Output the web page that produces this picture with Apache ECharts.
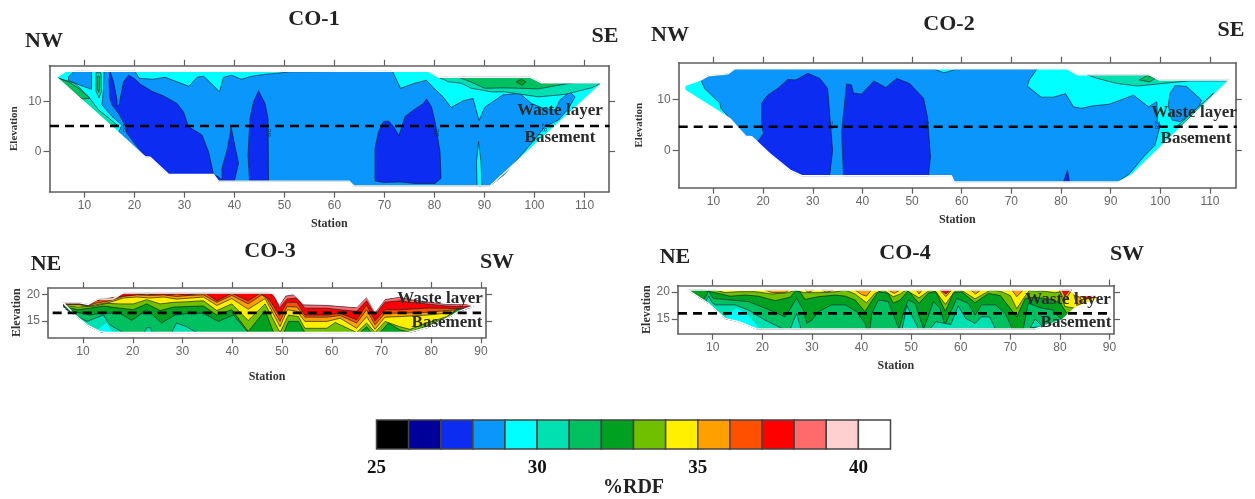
<!DOCTYPE html>
<html><head><meta charset="utf-8">
<style>html,body{margin:0;padding:0;background:#fff}#c{width:1255px;height:499px}</style>
<script src="https://cdn.jsdelivr.net/npm/echarts@6/dist/echarts.min.js"></script>
</head><body><div id="c"></div>
<script>
// ---------- colour scale ----------
const rdfLevels = [25,26,27,28,29,30,31,32,33,34,35,36,37,38,39,40];
const rdfColors = ['#000000','#00009a','#0c2cf2','#0a96fa','#00ffff','#00e0b0','#00c060','#00a020','#70c000','#fff000','#ffa000','#ff5000','#ff0000','#ff6a6a','#ffd0d0','#ffffff'];
const rdfTicks = [25,30,35,40];
const stationTicksLong = [10,20,30,40,50,60,70,80,90,100,110];
const stationTicksShort = [10,20,30,40,50,60,70,80,90];
const elevationTicksLong = [0,10];
const elevationTicksShort = [15,20];

// ---------- CO-1 contour outlines [station, elevation] ----------
const co1Envelope = [[4.4,14.8],[6.2,16],[78.8,16],[80.8,14.8],[99.2,14.8],[101.4,13.7],[113.6,13.7],[91.1,-6.8],[63.9,-6.8],[62.9,-5.85],[36.8,-5.85],[35.8,-4.5],[26.8,-4.5],[23.1,-1.1],[22.1,-1],[15.1,5.3]];
const co1Main28 = [[13.9,16],[20.1,16],[20.9,14.6],[23.7,14.4],[26.1,14.8],[28.5,13.9],[30.9,13],[32.5,14.8],[33.8,15],[35,13.9],[37,11.9],[37.8,14.8],[39.4,15.2],[41.4,14.4],[43.4,15],[46.2,15.4],[48.6,15.6],[51,15.9],[71.6,16],[73.2,12.6],[76,13.6],[78.4,14.2],[79.6,12.9],[81.7,10.9],[83.3,8.8],[85.7,10.1],[87.7,10.6],[88.9,6.2],[90.1,8.9],[93.7,11.3],[97,11.6],[99.4,9.6],[101.8,8.6],[104.1,8.3],[105.1,10.3],[107.1,11.9],[108.1,10.9],[106.8,8.6],[104.8,6.3],[102.1,5],[99.4,1.7],[94,-4.5],[91.1,-6.8],[63.9,-6.8],[62.9,-5.85],[36.8,-5.85],[35.8,-4.5],[26.8,-4.5],[23.1,-1.1],[22.1,-1],[16.8,3.8],[17.5,5.3],[15.5,7],[13.5,9.3],[13.8,12.6]];
const co1Patch28 = [[6.8,14.9],[8,16],[11.4,16],[11.4,12.4],[9.2,13.2],[6.8,14.2]];
const co1EdgeTeal = [[4.5,14.7],[8.1,13.6],[9.8,11.9],[11.1,10.6],[12.8,8.3],[14.5,7],[16.5,5.3],[15.1,5.3]];
const co1EdgeGreen = [[4.5,14.7],[6.8,13.9],[8.8,12.6],[11.1,10.6],[9.5,10.5],[7.8,11.9]];
const co1StripTeal = [[12.3,15.7],[13.3,15.7],[13.4,12],[12.9,10.7],[12.3,12]];
const co1StripGreen = [[12.6,15],[13,15],[13,12.5],[12.8,11.8],[12.6,12.5]];
const co1Dark27A = [[15.1,16],[15.8,13.9],[16.5,10.3],[16.5,9.1],[16.9,9.3],[17.8,13.9],[18.8,15.2],[19.9,14.6],[21.2,13.4],[23.5,12],[25.8,11.1],[28.5,9.6],[29.8,7.9],[30.8,5],[33.5,3.3],[34.8,0],[35.8,-4.5],[26.8,-4.5],[23.1,-1.1],[22.1,-1],[18.5,3.6],[18.1,5.3],[16.8,7.6],[15.5,9.3],[15.1,10.6],[14.9,13.9]];
const co1Dark27B = [[35.8,-4.5],[36.8,-5],[37.5,-5.7],[36.8,-5.7]];
const co1Dark27C = [[39.3,5],[40.1,1],[40.8,-2.3],[40,-5.7],[37.5,-5.7],[37.5,-3.3],[38.5,0.3],[39.1,3.3]];
const co1Dark27D = [[44.8,12.1],[46.1,9.6],[46.7,6.6],[46.8,-5.7],[43,-5.7],[42.7,-0.7],[43.1,6.6],[43.8,9.9]];
const co1Dark27E = [[68.1,-5.8],[68.1,0.7],[68.8,4],[69.8,6],[70.8,6.1],[71.8,5],[72.9,3.2],[74.1,7],[75.8,8.3],[77.8,9.6],[78.4,10.5],[79.4,8.9],[80.1,6],[81.1,0],[81.3,-5.3],[80.1,-6.3],[76.1,-6.3],[73.1,-6],[69.8,-6.1]];
const co1SpikeCyan = [[88.8,2],[89.3,-2],[89.5,-6.8],[88.5,-6.8],[88.4,-2]];
const co1TopTeal = [[80.8,14.8],[99.2,14.8],[101.4,13.7],[113.6,13.7],[111.4,12.7],[106.1,11.4],[100.8,10.9],[98.1,11.3],[94.1,11.9],[91.4,11.9],[87.4,12.6],[85.4,13.6],[82.8,13.9]];
const co1TopGreen = [[84.8,14.8],[99.2,14.8],[101.4,13.7],[108,13.7],[105.8,13.4],[100.8,12.5],[97.5,12.6],[93.5,12.7],[90.1,12.6],[87.4,13.8]];
const co1TopDark = [[96.3,13.9],[97.4,14.4],[98.3,13.9],[97.5,13.2]];
const co1LabelPoints = [[18.2,4.7],[46.8,3.8],[80.4,3.8],[102,4.8]];
const co1Dash = [[3.1,5.1],[115,5.1]];

// ---------- CO-2 contour outlines ----------
const co2Envelope = [[4.2,12.8],[7.5,13.9],[8.9,14.7],[12.9,15.1],[14.3,16.1],[81.3,16.1],[83.3,14.9],[97.8,14.9],[99.8,13.9],[113.9,13.9],[94.2,-4.9],[91.5,-6.25],[58.5,-6.25],[57.9,-5],[27.8,-5],[25.4,-3.9],[21.3,-0.6],[17.7,2.7],[16.5,2.8],[13.3,6.3],[4.2,11.9]];
const co2Main28 = [[7.5,13.9],[8.9,14.7],[12.9,15.1],[14.3,16.1],[54.3,16.1],[56.4,15.3],[59.2,16.1],[75.2,16.1],[73.6,13.9],[73.2,12.7],[76,10.5],[78.5,10.5],[80.9,11.2],[82.5,8.6],[84.1,8.3],[86.5,8.8],[89.7,9.1],[94.6,10.9],[97.6,8.6],[99.3,9.6],[99.4,5.65],[100,5],[98.9,1],[96.6,-1.3],[93.9,-4.5],[91.5,-6.25],[58.5,-6.25],[57.9,-5],[27.8,-5],[25.4,-3.9],[21.3,-0.6],[17.7,2.7],[16.5,2.8],[13.3,6.3],[11.5,8.3],[11.3,9.3],[8.2,12.2]];
const co2Blob28 = [[101.6,9],[102,11.3],[103,12.8],[105.3,12.6],[108.3,9.9],[107.7,8.6],[104,5.65],[102.3,6]];
const co2Dark27A = [[19.7,9.3],[20.9,10.9],[22.9,12.2],[25,14],[26.6,13.9],[29,15.2],[31.4,14.2],[33,12.2],[33.6,4.7],[34,0],[33.4,-5],[27.8,-5],[25.4,-3.9],[21.3,-0.6],[18.9,1.7],[20.1,3.4],[19.7,4.7]];
const co2Dark27B = [[36.8,13.1],[37.8,12.9],[38.2,11.3],[39.8,11.1],[42.3,13.7],[44.7,12.4],[46.9,14.2],[49.5,13.2],[52.3,10.3],[53.1,6.6],[53.7,-1.3],[53.3,-5],[36.2,-5],[35.8,3.4]];
const co2Dark27C = [[80.5,-6.2],[81.3,-3.9],[81.7,-6.2]];
const co2TopTeal = [[85.3,14.9],[97.8,14.9],[99.8,13.9],[113.9,13.9],[113,13.7],[105.8,13.7],[99.4,13.1],[95.4,12.7],[91.3,13.2],[87.3,14.2]];
const co2TopGreen = [[95.8,13.9],[97.4,14.8],[99,14.2],[97.8,13.5]];
const co2EdgeTeal = [[103.3,4.7],[104.3,5],[109.3,9.6],[110.7,11.3]];
const co2LabelPoints = [[33.5,5],[52.9,5],[99.4,5]];
const co2Dash = [[3,4.66],[115.4,4.66]];

// ---------- CO-3 contour curves ----------
const co3TopEdge = [[6,18.4],[9.3,18.4],[11,18.1],[13,19.1],[16,19.1],[18,20.25],[46.7,20.25],[48.3,20.2],[49.5,18.2],[50.6,19.9],[52.3,20.2],[54.3,18.3],[59,18.2],[61.7,18],[65,17.7],[67,19.7],[68.7,16.8],[70.7,19.3],[73.7,19.7],[75.7,19.3],[83.1,18.3],[87.1,18.3],[88.5,17.8]];
const co3LowEdge = [[6,17.4],[8.3,16.2],[10.7,14.3],[13.3,13],[14.7,12.8],[75.4,12.8],[79,13.7],[83.8,15.8],[85.5,16.8],[88.5,17.8]];
const co3Curve38 = [[6,18.4],[9.3,18.4],[11,18.1],[13,19.1],[16,19.1],[18,20.25],[46.7,20.25],[48.3,20.2],[49.5,18],[50.8,19.7],[52.3,19.9],[54.3,18],[59,17.9],[61.7,17.7],[65,17.5],[67,19.5],[68.7,16.6],[70.7,19],[73.7,19.5],[75.7,19],[83.1,18.1],[87.1,18.2],[88.5,17.8]];
const co3Curve37 = [[6,18.35],[9.3,18.35],[11,18.05],[13,19.05],[16,19.05],[18,20.2],[20.5,20.25],[46.7,20.25],[47.6,20.2],[48.6,19.3],[49.5,17.4],[51,19.1],[53,19.3],[54.6,17.4],[59,17.4],[61.7,17.1],[65,16.8],[67,18.8],[68.7,16.1],[70.7,18.5],[73.7,18.8],[75.7,18.5],[79.1,18.2],[83.1,17.8],[86.5,17.7],[88.5,17.8]];
const co3Curve36 = [[6,18.2],[9.3,18.2],[11,17.9],[12.7,18.8],[15.4,19.3],[17.4,19.6],[18.8,19.7],[20.8,19.8],[22.8,20.1],[24.8,19.8],[26.8,19.8],[28.8,20.1],[30.8,19.85],[33.5,20.2],[34.9,20.1],[36.9,18.8],[39.9,20.2],[43.2,18.8],[45.6,20.2],[47.5,19],[49.5,16],[51,18.5],[53,18.5],[54.6,16.1],[59,16.1],[61.7,16.45],[65,15.2],[67,18],[68.7,15],[70.7,17.1],[73.7,17.1],[79.1,17.4],[83.1,17.4],[86.5,17.2],[88,17.6]];
const co3Curve35 = [[6,18.1],[9.3,18.1],[11,17.8],[12.4,18.3],[15.4,18.8],[18.1,19.6],[20.8,19.9],[23.5,19.8],[26.2,19.9],[28.8,19.6],[31.5,19.8],[34.2,19.9],[36.9,18.5],[39.9,19.8],[43.2,18.2],[45.9,19.9],[46.9,19.3],[49.6,14.9],[51,17.7],[53,17.6],[54.6,15.7],[59,15.7],[61.7,16],[65,14.6],[67,17.1],[68.7,14.25],[70.7,16.45],[73.7,16.45],[79.1,16.6],[83.1,16.95],[86.5,17.1],[87.8,17.5]];
const co3Curve34 = [[6,18],[9.3,18],[11,17.7],[12.4,18],[15.4,18.5],[18.1,19.3],[20.8,19.5],[23.5,19.3],[26.2,19.5],[28.8,19.1],[31.5,19.3],[34.2,19.5],[36.9,17.9],[39.9,19.2],[43.2,17.2],[46.6,19.2],[49.6,13.9],[51.1,17.1],[53,16.8],[54.6,14.9],[59,14.9],[61.7,15.5],[65,13.6],[67,15.8],[68.7,13.4],[70.7,15.7],[73.7,15.8],[79.1,16.1],[83.1,16.45],[85.8,16.8],[87,17.3]];
const co3Curve33 = [[6,17.9],[9,17.6],[12.4,17.8],[14.8,18.3],[17.4,18.2],[20.1,18.2],[22.8,19],[25.5,18.2],[28.2,18.5],[30.8,18.6],[34.2,18.8],[36.9,16.95],[39.9,18.2],[43.2,15.07],[46.6,18.2],[49.6,12.8],[51.3,16.1],[53.3,15.8],[54.6,13.6],[59,13.6],[60.7,14.7],[65,12.8],[67,14.6],[68.7,12.8],[70.7,14.9],[73.7,13.9],[75.7,13.4],[79.1,14.6],[83.1,15.8],[85.1,17.1],[87,17.3]];
const co3Curve32 = [[6,17.7],[9,17.1],[11.4,17.4],[14.1,17.8],[17.4,17.4],[20.1,17.1],[22.8,18.2],[25.5,16.95],[28.2,17.6],[30.8,17.7],[34.2,17.8],[36.9,16.1],[39.9,17.1],[43.2,13],[46.6,16.95],[48.3,12.8],[50.4,12.8],[51.3,14.9],[53.3,14.9],[54.6,12.8],[65.7,12.8],[67,13.9],[68,12.8],[69.7,12.8],[71.4,14.6],[73.7,13.3],[75,13],[75.6,12.9],[79.1,14],[83.8,15.9],[85.1,17.2],[86.5,17.2]];
const co3Curve31 = [[6.5,17.2],[9.4,16.5],[11.4,16.1],[13.4,16.45],[17.4,16.45],[19.8,15.07],[22.8,17.1],[25.8,14.6],[28.5,16.1],[31.5,16.45],[34.2,16.45],[37.2,14.9],[40.2,16.1],[43.2,12.8]];
const co3Curve30 = [[8.7,15.9],[10.8,14.9],[14.1,16.1],[15.4,14.25],[18.1,12.8]];
const co3Patch30A = [[22.3,12.8],[22.8,13.7],[23.6,13.7],[23.9,12.8]];
const co3Patch30B = [[27.8,12.8],[28.8,14.6],[30.8,13.9],[32.8,12.8]];
const co3Cyan29 = [[12.7,13.2],[14.7,14.6],[16,12.8]];
const co3Dash = [[3.9,16.5],[90,16.5]];

// ---------- CO-4 contour curves ----------
const co4TopEdge = [[5,20.33],[82,20.33],[83.2,19.45],[88.2,19.1],[88.4,19]];
const co4LowEdge = [[5,20.33],[9.1,17.9],[12.5,15.1],[15.2,14.5],[18.9,13.16],[75,13.16],[80.4,14.8],[83,17],[88.4,19]];
const co4Curve33 = [[5,20.33],[10.5,20.33],[12.5,19.84],[15.2,20.03],[18.5,20.03],[21.9,19.6],[25.25,19.84],[26.7,20.33],[28.3,19.84],[31.3,19.84],[34.7,20],[36.7,20.33],[38.7,19.6],[41,18],[42.7,19.72],[44.4,20.33],[46.4,19.1],[47.8,19.6],[48.9,20.33],[51.6,18.9],[53.8,20.33],[55,20],[56.9,17.7],[58.8,20.1],[60,20.33],[61,19.8],[62.9,18.7],[65,19.8],[66,20.33],[68,20.1],[70,19.3],[71.3,16.9],[72.8,19],[73.8,20.2],[77,20.1],[79,19.8],[80,20],[81,17.3],[83,17]];
const co4Curve32 = [[5,20.33],[8.1,20.33],[10.5,19.84],[13.5,19.2],[16.5,19.4],[19.2,19.2],[22.6,18.37],[25.6,19],[26.7,20.2],[27.6,20],[28.6,18.6],[31.3,19.1],[34.7,19.4],[36.7,19.2],[38.7,18.5],[40.7,16.35],[42.4,18.8],[43.4,20],[45.4,19.72],[46.4,17.9],[47.8,18.5],[49.4,20.2],[51.6,17.9],[53.5,19.8],[55,20],[56.9,16.4],[58.5,19.8],[60.2,20],[62.9,18],[65.6,19.7],[68,19.3],[71.3,15.4],[73,18.8],[75,19],[78,18.6],[80,18],[81.5,15.9]];
const co4Curve31 = [[7,19.1],[8.1,18.5],[8.8,19.4],[9.1,20.2],[10.1,18.8],[13.5,18.5],[17.2,18.2],[20.55,17],[24.6,15.43],[25.9,17.27],[26.9,18.8],[28.3,16.66],[28.95,14.2],[30,14.8],[31.3,16.35],[34,17.6],[36.7,17.6],[39,16.35],[40.7,14.2],[41,13.16],[41.7,13.16],[42.06,16],[43.4,18.5],[45.4,18.2],[47.1,14.2],[47.6,13.16],[48.4,16],[49.4,18.5],[50.8,17.9],[52.5,13.16],[54.5,18.2],[55.8,17],[56.8,13.9],[59.2,18.8],[61.5,17.9],[62.9,15.7],[64.2,17.6],[67,17.6],[69,16],[70.4,13.16],[72.6,13.16],[73.6,17.9],[76.3,17],[78.4,16.7],[80.4,14.8]];
const co4Curve30 = [[8.6,18.2],[9.2,19.2],[9.8,18.1],[10.5,17.6],[14.5,17.6],[17.2,16.66],[20.55,14.8],[24.2,13.16]];
const co4Cyan29 = [[12.5,15.4],[14.8,17],[16.85,16],[19.5,13.16]];
const co4Patch30A = [[25.6,13.16],[26.9,16],[27.8,13.16]];
const co4Patch30B = [[48.2,13.16],[49.1,17.5],[50.5,15],[51.5,13.16]];
const co4Patch30C = [[53.8,13.16],[55,14.5],[56.8,14.2],[58,14],[59.5,17.4],[61,15.1],[62.9,14.2],[64.2,15.4],[65.8,15.4],[67,13.16]];
const co4Patch30D = [[74,13.4],[75,15],[76.5,13.6]];
const co4Orange35 = [
  [[20.5,20.33],[22,19.85],[24.6,19.85],[25.4,20.33]],
  [[28.6,20.33],[29.3,19.9],[30.4,20.33]],
  [[32,20.33],[33,19.9],[34.3,20.33]],
  [[38.7,20.33],[40,19.5],[41,19.2],[42,20.33]],
  [[45.4,20.33],[46.6,19.7],[47.8,20.33]],
  [[51,20.33],[51.6,19.6],[52.2,20.33]],
  [[55.8,20.33],[57,19.1],[58.2,20.33]],
  [[62,20.33],[63,19.6],[64,20.33]],
  [[70.3,20.33],[71.3,19.1],[72.6,20.33]],
  [[79.8,20.33],[81,18.4],[82.4,20.33]],
  [[82.8,19.5],[84,19],[84.8,18],[83.4,17.5]]
];
const co4Red37 = [
  [[56,20.33],[57,19.6],[58,20.33]],
  [[80.4,20.33],[81,19.2],[82,20.33]],
  [[84.4,19.35],[88.2,19.1],[84.8,18.6]]
];
const co4Dash = [[3,16.03],[90.4,16.03]];

// ---------- helpers / panels ----------
const level = v => rdfColors[rdfLevels.indexOf(v)];
function under(top, low){
  const a = top[0][0], b = top[top.length-1][0];
  return top.concat(low.filter(p => p[0] > a && p[0] < b).reverse());
}
const panels = [
 {title:'CO-1', rect:[49.5,65.7,559.5,126], x:[3,114.9], y:[-7.95,17.1], xt:stationTicksLong, yt:elevationTicksLong, edge:co1Envelope, dash:co1Dash, marks:co1LabelPoints, fs:12, xGap:26, yGap:30,
  layers:[[29,co1Envelope,0],[30,co1EdgeTeal,1],[31,co1EdgeGreen,1],[28,co1Patch28,1],[30,co1StripTeal,1],[31,co1StripGreen,1],[28,co1Main28,1],[27,co1Dark27A,1],[27,co1Dark27B,1],[27,co1Dark27C,1],[27,co1Dark27D,1],[27,co1Dark27E,1],[29,co1SpikeCyan,1],[30,co1TopTeal,1],[31,co1TopGreen,1],[32,co1TopDark,1]]},
 {title:'CO-2', rect:[678.7,62.7,557.1,125], x:[3,115.2], y:[-7.36,17.3], xt:stationTicksLong, yt:elevationTicksLong, edge:co2Envelope, dash:co2Dash, marks:co2LabelPoints, fs:12, xGap:26, yGap:34,
  layers:[[29,co2Envelope,0],[28,co2Main28,1],[28,co2Blob28,1],[27,co2Dark27A,1],[27,co2Dark27B,1],[27,co2Dark27C,1],[30,co2TopTeal,1],[31,co2TopGreen,1],[30,co2EdgeTeal,1]]},
 {title:'CO-3', rect:[48,288,438,49.3], x:[2.96,91], y:[11.9,21.2], xt:stationTicksShort, yt:elevationTicksShort, edge:under(co3TopEdge,co3LowEdge), dash:co3Dash, marks:[], fs:12, xGap:34, yGap:23,
  layers:[[39,under(co3TopEdge,co3LowEdge),0],[38,under(co3Curve38,co3LowEdge),1],[37,under(co3Curve37,co3LowEdge),1],[36,under(co3Curve36,co3LowEdge),1],[35,under(co3Curve35,co3LowEdge),1],[34,under(co3Curve34,co3LowEdge),1],[33,under(co3Curve33,co3LowEdge),1],[32,under(co3Curve32,co3LowEdge),1],[31,under(co3Curve31,co3LowEdge),1],[30,under(co3Curve30,co3LowEdge),1],[30,co3Patch30A,1],[30,co3Patch30B,1],[29,co3Cyan29,0]]},
 {title:'CO-4', rect:[677.8,285.5,436.2,48.2], x:[2.96,90.9], y:[12.3,21.16], xt:stationTicksShort, yt:elevationTicksShort, edge:under(co4TopEdge,co4LowEdge), dash:co4Dash, marks:[], fs:12, xGap:26, yGap:23,
  layers:[[34,under(co4TopEdge,co4LowEdge),0],[33,under(co4Curve33,co4LowEdge),1],[32,under(co4Curve32,co4LowEdge),1],[31,under(co4Curve31,co4LowEdge),1],[30,under(co4Curve30,co4LowEdge),1],[29,co4Cyan29,0],[30,co4Patch30A,1],[30,co4Patch30B,1],[30,co4Patch30C,1],[30,co4Patch30D,1]]
    .concat(co4Orange35.map(p=>[35,p,1])).concat(co4Red37.map(p=>[37,p,1]))}
];

const serif = '"Liberation Serif", serif', sans = '"Liberation Sans", sans-serif';
const frame = {lineStyle:{color:'#5f5f5f',width:1.6}};
const grids=[], xAxes=[], yAxes=[], series=[];
panels.forEach((p,i)=>{
  grids.push({left:p.rect[0],top:p.rect[1],width:p.rect[2],height:p.rect[3]});
  const ax = {type:'value',gridIndex:i,min:p.x[0],max:p.x[1],splitLine:{show:false},axisLine:Object.assign({onZero:false},frame)};
  const ay = {type:'value',gridIndex:i,min:p.y[0],max:p.y[1],splitLine:{show:false},axisLine:Object.assign({onZero:false},frame)};
  const tick = v => ({show:true,length:6,customValues:v,lineStyle:{color:'#5f5f5f',width:1.2}});
  xAxes.push(Object.assign({},ax,{position:'bottom',axisTick:tick(p.xt),
    axisLabel:{customValues:p.xt,color:'#666',fontFamily:sans,fontSize:p.fs,margin:8},
    name:'Station',nameLocation:'middle',nameGap:p.xGap,nameTextStyle:{fontFamily:serif,fontWeight:'bold',fontSize:12,color:'#333'}}));
  xAxes.push(Object.assign({},ax,{position:'top',axisTick:tick(p.xt),axisLabel:{show:false}}));
  yAxes.push(Object.assign({},ay,{position:'left',axisTick:tick(p.yt),
    axisLabel:{customValues:p.yt,color:'#666',fontFamily:sans,fontSize:p.fs,margin:8},
    name:'Elevation',nameLocation:'middle',nameGap:p.yGap,nameTextStyle:{fontFamily:serif,fontWeight:'bold',fontSize:i<2?11:12,color:'#333'}}));
  yAxes.push(Object.assign({},ay,{position:'right',axisTick:tick(p.yt),axisLabel:{show:false}}));
  const xi=i*2, yi=i*2;
  series.push({type:'custom',coordinateSystem:'cartesian2d',xAxisIndex:xi,yAxisIndex:yi,silent:true,animation:false,z:2,
    data:p.layers.map(l=>[l[0]]),
    renderItem:(params,api)=>{
      const l=p.layers[params.dataIndex];
      return {type:'polygon',shape:{points:l[1].map(q=>api.coord(q))},
        style:{fill:level(l[0]),stroke:l[2]?'rgba(10,30,50,0.72)':'none',lineWidth:0.9}};
    }});
  series.push({type:'custom',coordinateSystem:'cartesian2d',xAxisIndex:xi,yAxisIndex:yi,silent:true,animation:false,z:3,
    data:[[0]],
    renderItem:(params,api)=>({type:'polygon',shape:{points:p.edge.map(q=>api.coord(q))},style:{fill:'none',stroke:'#fff',lineWidth:1.4}})});
  if(p.marks.length) series.push({type:'scatter',xAxisIndex:xi,yAxisIndex:yi,silent:true,animation:false,z:4,symbolSize:0,data:p.marks,
    label:{show:true,position:'inside',formatter:()=>'28',rotate:-90,fontSize:8,color:'#0b2a66',fontFamily:sans}});
  series.push({type:'line',xAxisIndex:xi,yAxisIndex:yi,silent:true,animation:false,z:5,symbol:'none',clip:false,data:p.dash,
    lineStyle:{color:'#000',width:2.6,type:[9,6]}});
});
// colour bar
grids.push({left:376.5,top:420,width:514,height:33});
xAxes.push({type:'value',gridIndex:4,min:25,max:41,splitLine:{show:false},position:'bottom',
  axisLine:{show:false},axisTick:{show:false},
  axisLabel:{customValues:rdfTicks,color:'#111',fontFamily:serif,fontWeight:'bold',fontSize:19,margin:9},
  name:'%RDF',nameLocation:'middle',nameGap:27,nameTextStyle:{fontFamily:serif,fontWeight:'bold',fontSize:20,color:'#222'}});
yAxes.push({type:'value',gridIndex:4,min:0,max:1,show:false});
series.push({type:'custom',coordinateSystem:'cartesian2d',xAxisIndex:8,yAxisIndex:8,silent:true,animation:false,
  data:rdfLevels.map(v=>[v]),
  renderItem:(params,api)=>{
    const v=api.value(0), a=api.coord([v,1]), b=api.coord([v+1,0]);
    return {type:'rect',shape:{x:a[0],y:a[1],width:b[0]-a[0],height:b[1]-a[1]},style:{fill:level(v),stroke:'#444',lineWidth:1.5}};
  }});

const t=(text,x,y,size,color)=>({type:'text',x,y,z:50,silent:true,style:{text,fontFamily:serif,fontWeight:'bold',fontSize:size,fill:color||'#222',textAlign:'center',textVerticalAlign:'middle'}});
const graphic=[
 t('CO-1',314,19,22),t('NW',44,41,22),t('SE',605,36,22),
 t('CO-2',949,24,22),t('NW',670,35,22),t('SE',1231,30,22),
 t('CO-3',270,251,22),t('NE',46,264,22),t('SW',497,262,22),
 t('CO-4',905,253,22),t('NE',675,257,22),t('SW',1127,254,22),
 t('Waste layer',560,111,17,'#2a2a2a'),t('Basement',560,138,17,'#2a2a2a'),
 t('Waste layer',1194,113,17,'#2a2a2a'),t('Basement',1196,139,17,'#2a2a2a'),
 t('Waste layer',440,299,17,'#2a2a2a'),t('Basement',447,323,17,'#2a2a2a'),
 t('Waste layer',1068,300,17,'#2a2a2a'),t('Basement',1076,323,17,'#2a2a2a')
];
const chart=echarts.init(document.getElementById('c'),null,{renderer:'canvas'});
chart.setOption({animation:false,backgroundColor:'#fff',grid:grids,xAxis:xAxes,yAxis:yAxes,series,graphic});
</script></body></html>
